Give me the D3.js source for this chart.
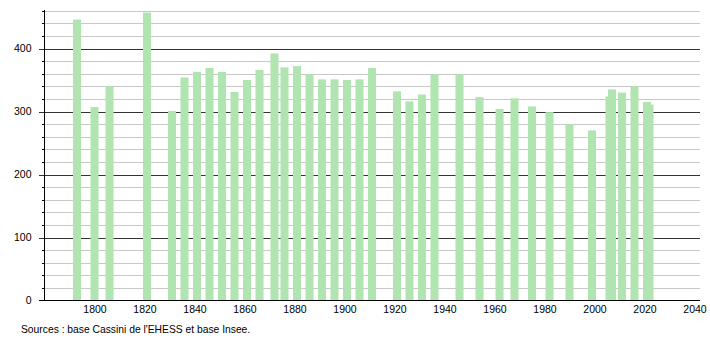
<!DOCTYPE html>
<html>
<head>
<meta charset="utf-8">
<script src="https://cdnjs.cloudflare.com/ajax/libs/d3/7.8.5/d3.min.js"></script>
<style>
	body { margin: 0; background: #fff; }
	text { font-family: "Liberation Sans", Arial, sans-serif; }
</style>
</head>
<body>
<svg id="chart"></svg>
<script>
// années de recensement
var years = [1793, 1800, 1806, 1821, 1831, 1836, 1841, 1846, 1851, 1856,
	1861, 1866, 1872, 1876, 1881, 1886, 1891, 1896, 1901, 1906,
	1911, 1921, 1926, 1931, 1936, 1946, 1954, 1962, 1968, 1975,
	1982, 1990, 1999, 2006, 2007, 2011, 2016, 2021, 2022];
// population
var population = [446, 307, 340, 457, 301, 354, 363, 369, 363, 331,
	350, 366, 392, 370, 372, 359, 351, 351, 350, 351,
	369, 332, 316, 327, 359, 359, 323, 304, 321, 308,
	299, 280, 270, 324, 335, 330, 340, 315, 311];
var xTicks = [1800, 1820, 1840, 1860, 1880, 1900, 1920, 1940, 1960, 1980, 2000, 2020, 2040];
var yTicks = [0, 100, 200, 300, 400];
var sourceText = "Sources : base Cassini de l'EHESS et base Insee.";

var width = 710,
	height = 340,
	barColor = "#b0e4b0",
	minorColor = "#c8c8c8",
	majorColor = "#333",
	barWidth = 8;

var svg = d3.select("#chart")
	.attr("width", width)
	.attr("height", height);

var x = d3.scaleLinear()
	.domain([1780, 2042])
	.range([44.5, 699.5]);

var y = d3.scaleLinear()
	.domain([0, 460])
	.range([300.5, 10.7]);

// lignes de grille
var minor = d3.range(20, 461, 20).filter(function(d) { return d % 100 != 0; });
svg.append("g")
	.selectAll("line")
	.data(minor)
	.enter()
	.append("line")
	.attr("x1", 42)
	.attr("x2", 700)
	.attr("y1", function(d) { return Math.round(y(d)) + 0.5; })
	.attr("y2", function(d) { return Math.round(y(d)) + 0.5; })
	.attr("stroke", minorColor)
	.attr("stroke-width", 1);

svg.append("g")
	.selectAll("line")
	.data(yTicks.filter(function(d) { return d > 0; }))
	.enter()
	.append("line")
	.attr("x1", 39)
	.attr("x2", 700)
	.attr("y1", function(d) { return Math.round(y(d)) + 0.5; })
	.attr("y2", function(d) { return Math.round(y(d)) + 0.5; })
	.attr("stroke", majorColor)
	.attr("stroke-width", 1);

// barres
svg.append("g")
	.selectAll("rect")
	.data(years)
	.enter()
	.append("rect")
	.attr("x", function(d) { return x(d) - barWidth / 2; })
	.attr("y", function(d, i) { return y(population[i]); })
	.attr("width", barWidth)
	.attr("height", function(d, i) { return y(0) - y(population[i]); })
	.attr("fill", barColor);

// axes
svg.append("line")
	.attr("x1", 44.5)
	.attr("x2", 44.5)
	.attr("y1", 10)
	.attr("y2", 300.5)
	.attr("stroke", "#000");

svg.append("line")
	.attr("x1", 39)
	.attr("x2", 700)
	.attr("y1", 300.5)
	.attr("y2", 300.5)
	.attr("stroke", "#000");

var yAxis = svg.append("g")
	.attr("transform", "translate(44.5,0)")
	.call(d3.axisLeft(y).tickValues(yTicks).tickSize(0).tickPadding(13).tickFormat(d3.format("d")));
yAxis.select(".domain").remove();
yAxis.selectAll("text").attr("font-size", 10.5).attr("fill", "#000").attr("font-family", null);

svg.append("g")
	.selectAll("line")
	.data(minor)
	.enter()
	.append("line")
	.attr("x1", 42)
	.attr("x2", 44.5)
	.attr("y1", function(d) { return Math.round(y(d)) + 0.5; })
	.attr("y2", function(d) { return Math.round(y(d)) + 0.5; })
	.attr("stroke", "#000");

var xAxis = svg.append("g")
	.attr("transform", "translate(0,300.5)")
	.call(d3.axisBottom(x).tickValues(xTicks).tickSize(0).tickPadding(5).tickFormat(d3.format("d")));
xAxis.select(".domain").remove();
xAxis.selectAll("text").attr("font-size", 10.5).attr("fill", "#000").attr("font-family", null);

svg.append("text")
	.attr("x", 21)
	.attr("y", 333)
	.attr("font-size", 10.3)
	.attr("fill", "#000")
	.text(sourceText);
</script>
</body>
</html>
